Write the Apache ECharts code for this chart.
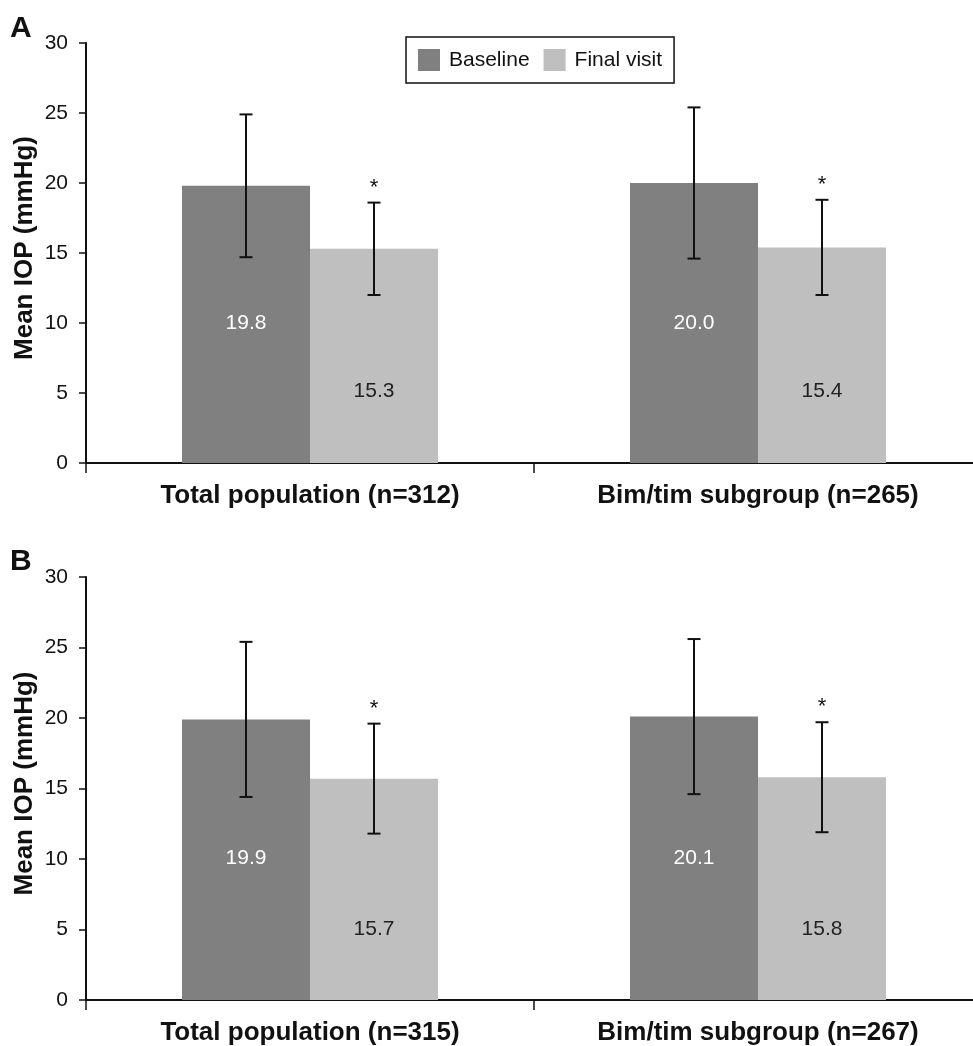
<!DOCTYPE html>
<html><head><meta charset="utf-8">
<script src="https://cdn.jsdelivr.net/npm/echarts@6/dist/echarts.min.js"></script>
<style>html,body{margin:0;padding:0;background:#fff}#c{width:973px;height:1046px}</style>
</head><body><div id="c"></div>
<script>
// ---- data ----
const categoriesA = ['Total population (n=312)', 'Bim/tim subgroup (n=265)'];
const categoriesB = ['Total population (n=315)', 'Bim/tim subgroup (n=267)'];
const baselineA = [19.8, 20.0];
const baselineSDA = [5.1, 5.4];
const finalA = [15.3, 15.4];
const finalSDA = [3.3, 3.4];
const baselineB = [19.9, 20.1];
const baselineSDB = [5.5, 5.5];
const finalB = [15.7, 15.8];
const finalSDB = [3.9, 3.9];
const yTicks = [0, 5, 10, 15, 20, 25, 30];
const seriesNames = ['Baseline', 'Final visit'];
const significantFinal = ['*', '*'];

// ---- style ----
const FONT = '"Liberation Sans", Arial, sans-serif';
const C_BASE = '#808080', C_FINAL = '#bfbfbf';
const BAR_FRAC = 0.2857;

const chart = echarts.init(document.getElementById('c'));

function yAxis(gi) {
  return {
    gridIndex: gi, type: 'value', min: yTicks[0], max: yTicks[yTicks.length - 1], interval: yTicks[1] - yTicks[0],
    name: 'Mean IOP (mmHg)', nameLocation: 'middle', nameGap: 48, nameRotate: 90, nameMoveOverlap: false,
    nameTextStyle: { fontFamily: FONT, fontWeight: 'bold', fontSize: 26, color: '#111', padding: [0, 0, 0, 10] },
    axisLine: { show: true, lineStyle: { color: '#111', width: 2 } },
    axisTick: { show: true, length: 7, lineStyle: { color: '#111', width: 1.5 } },
    splitLine: { show: false },
    axisLabel: { fontFamily: FONT, fontSize: 21, color: '#111', margin: 18 }
  };
}
function xAxis(gi, cats) {
  return {
    gridIndex: gi, type: 'category', data: cats,
    axisLine: { show: true, lineStyle: { color: '#111', width: 2 } },
    axisTick: { show: true, length: 10, inside: false, lineStyle: { color: '#111', width: 1.5 } },
    axisLabel: { fontFamily: FONT, fontWeight: 'bold', fontSize: 26, color: '#111', margin: 20 }
  };
}
function bar(gi, name, data, color, labelColor, labelDist) {
  return {
    type: 'bar', name: name, xAxisIndex: gi, yAxisIndex: gi, data: data,
    barWidth: (BAR_FRAC * 100) + '%', barGap: '0%',
    itemStyle: { color: color },
    label: { show: true, position: 'insideBottom', distance: labelDist, color: labelColor,
      fontFamily: FONT, fontSize: 21, formatter: p => p.value.toFixed(1) },
    emphasis: { disabled: true }, z: 2
  };
}
function errSeries(gi, means, sds, side, marks) {
  const d = means.map((m, i) => [i, m - sds[i], m + sds[i]]);
  return {
    type: 'custom', xAxisIndex: gi, yAxisIndex: gi, data: d, z: 5, silent: true,
    renderItem: function (params, api) {
      const i = api.value(0);
      const band = api.size([1, 0])[0];
      const off = side * band * BAR_FRAC / 2;
      const lo = api.coord([i, api.value(1)]);
      const hi = api.coord([i, api.value(2)]);
      const x = lo[0] + off;
      const cap = 6.5;
      const st = { stroke: '#111', lineWidth: 2 };
      const children = [
        { type: 'line', shape: { x1: x, y1: lo[1], x2: x, y2: hi[1] }, style: st },
        { type: 'line', shape: { x1: x - cap, y1: lo[1], x2: x + cap, y2: lo[1] }, style: st },
        { type: 'line', shape: { x1: x - cap, y1: hi[1], x2: x + cap, y2: hi[1] }, style: st }
      ];
      if (marks && marks[params.dataIndex]) {
        children.push({ type: 'text', style: { text: marks[params.dataIndex], x: x, y: hi[1] - 4,
          align: 'center', verticalAlign: 'bottom', fontFamily: FONT, fontSize: 22, fill: '#111' } });
      }
      return { type: 'group', children: children };
    }
  };
}

chart.setOption({
  animation: false,
  backgroundColor: '#fff',
  grid: [
    { left: 86, top: 43, width: 896, height: 420, outerBoundsMode: 'none', containLabel: false },
    { left: 86, top: 577, width: 896, height: 423, outerBoundsMode: 'none', containLabel: false }
  ],
  xAxis: [xAxis(0, categoriesA), xAxis(1, categoriesB)],
  yAxis: [yAxis(0), yAxis(1)],
  legend: {
    data: seriesNames, left: 406, top: 37, itemWidth: 22, itemHeight: 22, itemGap: 14,
    borderColor: '#111', borderWidth: 1.5, padding: [12, 12, 12, 12], borderRadius: 0,
    textStyle: { fontFamily: FONT, fontSize: 21, color: '#111', padding: [0, 0, 0, 4] }, icon: 'rect', selectedMode: false
  },
  graphic: [
    { type: 'text', left: 10, top: 14, style: { text: 'A', fontFamily: FONT, fontWeight: 'bold', fontSize: 30, fill: '#111' } },
    { type: 'text', left: 10, top: 547, style: { text: 'B', fontFamily: FONT, fontWeight: 'bold', fontSize: 30, fill: '#111' } }
  ],
  series: [
    bar(0, seriesNames[0], baselineA, C_BASE, '#fff', 129),
    bar(0, seriesNames[1], finalA, C_FINAL, '#222', 61),
    errSeries(0, baselineA, baselineSDA, -1, null),
    errSeries(0, finalA, finalSDA, 1, significantFinal),
    bar(1, seriesNames[0], baselineB, C_BASE, '#fff', 131),
    bar(1, seriesNames[1], finalB, C_FINAL, '#222', 60),
    errSeries(1, baselineB, baselineSDB, -1, null),
    errSeries(1, finalB, finalSDB, 1, significantFinal)
  ]
});
</script></body></html>
